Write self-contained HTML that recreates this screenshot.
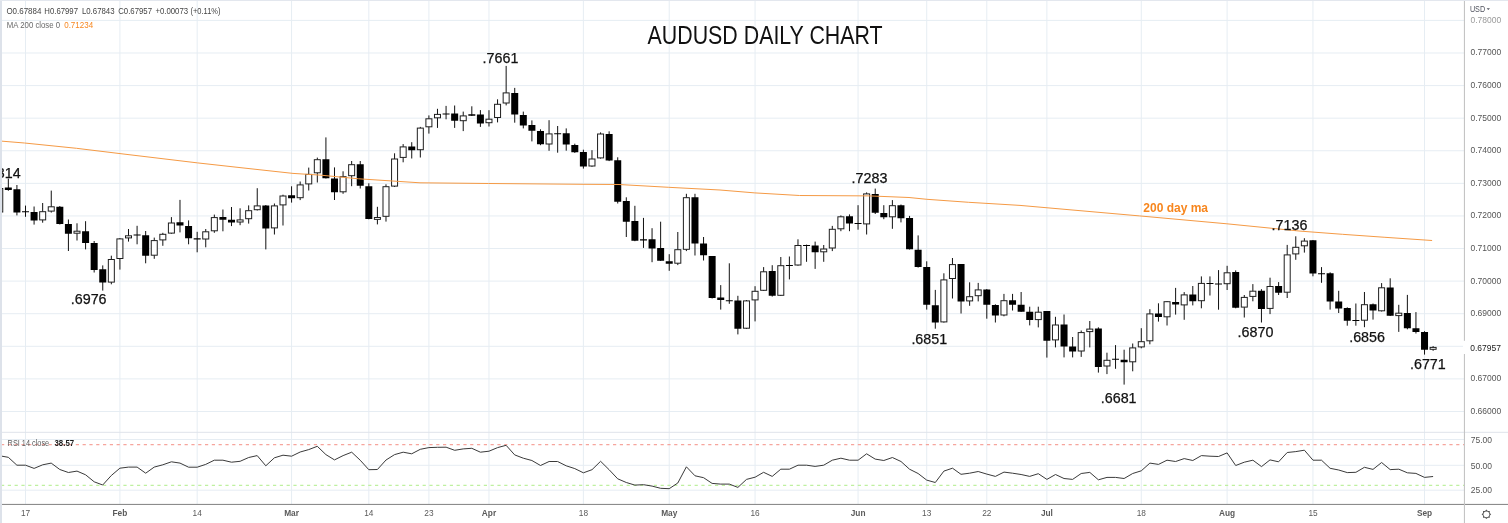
<!DOCTYPE html><html><head><meta charset="utf-8"><title>AUDUSD Daily Chart</title>
<style>html,body{margin:0;padding:0;background:#fff;}svg{display:block;}text{font-family:"Liberation Sans",Arial,sans-serif;}</style></head><body>
<svg width="1508" height="523" viewBox="0 0 1508 523">
<rect x="0" y="0" width="1508" height="523" fill="#ffffff"/>
<path d="M2 20.40H1464 M2 52.99H1464 M2 85.58H1464 M2 118.17H1464 M2 150.76H1464 M2 183.35H1464 M2 215.94H1464 M2 248.53H1464 M2 281.12H1464 M2 313.71H1464 M2 346.30H1464 M2 378.89H1464 M2 411.48H1464 M25.50 1V504 M119.91 1V504 M197.16 1V504 M291.57 1V504 M368.82 1V504 M428.90 1V504 M488.98 1V504 M583.39 1V504 M669.23 1V504 M755.06 1V504 M858.05 1V504 M926.72 1V504 M986.80 1V504 M1046.88 1V504 M1141.29 1V504 M1227.12 1V504 M1312.95 1V504 M1424.53 1V504 M2 439.5H1464 M2 465.3H1464 M2 490.2H1464" stroke="#e6edf3" stroke-width="1" fill="none"/>
<path d="M1 444.6H1464" stroke="#f6a59d" stroke-width="1.2" stroke-dasharray="3.2 3.6" fill="none"/>
<path d="M1 485.4H1464" stroke="#bff0a0" stroke-width="1.2" stroke-dasharray="3.2 3.6" fill="none"/>
<path d="M-0.25 186.0V214.0 M8.33 178.6V190.8 M16.92 185.0V215.4 M25.50 205.6V216.8 M34.08 206.5V224.6 M42.67 203.0V222.7 M51.25 190.6V212.6 M59.83 206.0V224.5 M68.41 219.5V251.0 M77.00 223.3V240.5 M85.58 221.2V249.4 M94.16 241.0V272.5 M102.75 265.4V290.6 M111.33 255.7V284.3 M119.91 238.0V269.6 M128.50 229.0V241.6 M137.08 225.8V244.3 M145.66 231.0V263.3 M154.25 237.6V258.8 M162.83 232.8V245.8 M171.41 217.1V233.8 M179.99 199.9V232.4 M188.58 220.4V244.3 M197.16 231.8V252.3 M205.74 229.0V247.3 M214.33 214.6V232.8 M222.91 209.5V231.3 M231.49 207.0V226.1 M240.08 208.3V225.2 M248.66 205.4V223.6 M257.24 188.2V210.5 M265.82 205.0V249.4 M274.41 203.5V234.5 M282.99 194.7V225.5 M291.57 186.3V202.6 M300.16 181.5V200.1 M308.74 167.6V190.5 M317.32 157.6V182.5 M325.91 137.4V178.5 M334.49 167.4V200.0 M343.07 171.3V193.8 M351.65 161.0V186.2 M360.24 161.0V188.5 M368.82 183.3V219.3 M377.40 206.8V224.4 M385.99 184.3V221.6 M394.57 153.3V187.0 M403.15 144.1V162.3 M411.74 142.2V158.5 M420.32 126.9V157.5 M428.90 115.4V133.6 M437.48 108.8V127.9 M446.07 105.9V119.3 M454.65 105.5V127.9 M463.23 111.6V131.1 M471.82 106.3V116.0 M480.40 110.1V126.9 M488.98 110.2V126.5 M497.56 99.3V122.4 M506.15 65.9V105.4 M514.73 87.9V122.7 M523.31 111.6V128.4 M531.90 120.4V141.4 M540.48 129.3V145.2 M549.06 120.2V150.8 M557.65 126.0V152.7 M566.23 128.4V150.7 M574.81 143.7V152.9 M583.39 149.7V168.6 M591.98 150.2V166.8 M600.56 132.4V158.6 M609.14 131.3V161.1 M617.73 157.3V203.5 M626.31 197.3V237.0 M634.89 205.8V241.2 M643.48 217.9V247.9 M652.06 228.2V262.2 M660.64 221.7V261.0 M669.23 254.2V270.8 M677.81 232.0V265.1 M686.39 193.8V251.1 M694.97 193.8V255.5 M703.56 237.0V260.5 M712.14 256.0V298.5 M720.72 285.1V309.6 M729.31 263.3V303.8 M737.89 295.8V334.4 M746.47 300.0V329.0 M755.06 286.2V321.4 M763.64 267.1V291.0 M772.22 265.2V296.6 M780.80 257.0V296.0 M789.39 256.5V279.4 M797.97 239.3V265.7 M806.55 244.6V261.8 M815.14 241.6V268.9 M823.72 245.0V261.8 M832.30 225.9V251.1 M840.88 215.4V231.2 M849.47 214.4V231.2 M858.05 205.2V229.7 M866.63 192.4V234.5 M875.22 188.6V214.0 M883.80 205.2V219.2 M892.38 200.1V228.8 M900.97 204.5V222.4 M909.55 215.9V249.5 M918.13 235.4V267.6 M926.72 261.3V309.6 M935.30 289.9V328.7 M943.88 273.3V322.6 M952.46 258.0V298.5 M961.05 264.0V313.5 M969.63 282.3V305.8 M978.21 282.9V301.4 M986.80 289.0V318.7 M995.38 304.3V322.5 M1003.96 293.9V316.3 M1012.55 293.9V310.5 M1021.13 292.0V311.9 M1029.71 306.7V325.4 M1038.29 306.7V327.4 M1046.88 311.0V357.6 M1055.46 316.8V347.4 M1064.04 314.5V357.4 M1072.63 337.0V357.4 M1081.21 330.5V356.9 M1089.79 321.0V347.4 M1098.38 327.3V372.6 M1106.96 352.7V374.1 M1115.54 345.1V368.8 M1124.12 349.7V384.6 M1132.71 343.5V371.3 M1141.29 328.2V348.3 M1149.87 309.2V344.3 M1158.46 303.3V321.6 M1167.04 301.0V325.5 M1175.62 287.9V314.6 M1184.20 292.1V319.8 M1192.79 286.0V305.4 M1201.37 276.4V308.3 M1209.95 276.4V295.5 M1218.54 270.1V309.7 M1227.12 265.8V290.0 M1235.70 270.4V308.3 M1244.29 295.0V317.5 M1252.87 284.1V301.3 M1261.45 289.2V322.5 M1270.04 277.7V314.1 M1278.62 282.1V295.0 M1287.20 244.9V298.0 M1295.78 236.3V259.8 M1304.37 238.2V252.6 M1312.95 240.0V276.3 M1321.53 267.1V282.8 M1330.12 272.3V309.6 M1338.70 290.8V313.0 M1347.28 307.3V325.7 M1355.87 303.5V325.7 M1364.45 292.0V327.2 M1373.03 303.5V319.6 M1381.61 283.1V311.5 M1390.20 278.3V316.0 M1398.78 304.8V331.9 M1407.36 294.9V329.3 M1415.95 312.1V333.5 M1424.53 331.2V354.6 M1433.11 346.1V350.8" stroke="#111" stroke-width="1" fill="none"/>
<rect x="-3.25" y="188.5" width="6.0" height="23.5" fill="#fff" stroke="#1e1e1e" stroke-width="1"/>
<rect x="39.67" y="211.7" width="6.0" height="8.2" fill="#fff" stroke="#1e1e1e" stroke-width="1"/>
<rect x="48.25" y="206.8" width="6.0" height="4.3" fill="#fff" stroke="#1e1e1e" stroke-width="1"/>
<rect x="74.00" y="231.2" width="6.0" height="2.0" fill="#fff" stroke="#1e1e1e" stroke-width="1"/>
<rect x="108.33" y="259.5" width="6.0" height="22.6" fill="#fff" stroke="#1e1e1e" stroke-width="1"/>
<rect x="116.91" y="238.9" width="6.0" height="19.6" fill="#fff" stroke="#1e1e1e" stroke-width="1"/>
<rect x="125.50" y="235.8" width="6.0" height="2.1" fill="#fff" stroke="#1e1e1e" stroke-width="1"/>
<rect x="151.25" y="240.6" width="6.0" height="14.6" fill="#fff" stroke="#1e1e1e" stroke-width="1"/>
<rect x="159.83" y="234.3" width="6.0" height="5.6" fill="#fff" stroke="#1e1e1e" stroke-width="1"/>
<rect x="168.41" y="223.0" width="6.0" height="10.1" fill="#fff" stroke="#1e1e1e" stroke-width="1"/>
<rect x="202.74" y="231.8" width="6.0" height="7.2" fill="#fff" stroke="#1e1e1e" stroke-width="1"/>
<rect x="211.33" y="217.6" width="6.0" height="13.2" fill="#fff" stroke="#1e1e1e" stroke-width="1"/>
<rect x="237.08" y="219.9" width="6.0" height="2.1" fill="#fff" stroke="#1e1e1e" stroke-width="1"/>
<rect x="245.66" y="210.7" width="6.0" height="8.0" fill="#fff" stroke="#1e1e1e" stroke-width="1"/>
<rect x="254.24" y="205.9" width="6.0" height="3.8" fill="#fff" stroke="#1e1e1e" stroke-width="1"/>
<rect x="271.41" y="205.9" width="6.0" height="22.0" fill="#fff" stroke="#1e1e1e" stroke-width="1"/>
<rect x="279.99" y="196.0" width="6.0" height="8.9" fill="#fff" stroke="#1e1e1e" stroke-width="1"/>
<rect x="297.16" y="184.9" width="6.0" height="12.8" fill="#fff" stroke="#1e1e1e" stroke-width="1"/>
<rect x="305.74" y="174.4" width="6.0" height="9.5" fill="#fff" stroke="#1e1e1e" stroke-width="1"/>
<rect x="314.32" y="159.7" width="6.0" height="13.1" fill="#fff" stroke="#1e1e1e" stroke-width="1"/>
<rect x="340.07" y="176.7" width="6.0" height="15.1" fill="#fff" stroke="#1e1e1e" stroke-width="1"/>
<rect x="348.65" y="164.7" width="6.0" height="11.0" fill="#fff" stroke="#1e1e1e" stroke-width="1"/>
<rect x="374.40" y="217.5" width="6.0" height="1.9" fill="#fff" stroke="#1e1e1e" stroke-width="1"/>
<rect x="382.99" y="186.7" width="6.0" height="29.6" fill="#fff" stroke="#1e1e1e" stroke-width="1"/>
<rect x="391.57" y="159.0" width="6.0" height="27.1" fill="#fff" stroke="#1e1e1e" stroke-width="1"/>
<rect x="400.15" y="146.9" width="6.0" height="10.5" fill="#fff" stroke="#1e1e1e" stroke-width="1"/>
<rect x="417.32" y="128.1" width="6.0" height="21.6" fill="#fff" stroke="#1e1e1e" stroke-width="1"/>
<rect x="425.90" y="118.8" width="6.0" height="8.0" fill="#fff" stroke="#1e1e1e" stroke-width="1"/>
<rect x="434.48" y="114.4" width="6.0" height="3.4" fill="#fff" stroke="#1e1e1e" stroke-width="1"/>
<rect x="460.23" y="115.9" width="6.0" height="4.8" fill="#fff" stroke="#1e1e1e" stroke-width="1"/>
<rect x="485.98" y="119.2" width="6.0" height="3.5" fill="#fff" stroke="#1e1e1e" stroke-width="1"/>
<rect x="494.56" y="104.3" width="6.0" height="13.2" fill="#fff" stroke="#1e1e1e" stroke-width="1"/>
<rect x="503.15" y="92.9" width="6.0" height="10.1" fill="#fff" stroke="#1e1e1e" stroke-width="1"/>
<rect x="546.06" y="133.9" width="6.0" height="10.1" fill="#fff" stroke="#1e1e1e" stroke-width="1"/>
<rect x="588.98" y="159.0" width="6.0" height="7.0" fill="#fff" stroke="#1e1e1e" stroke-width="1"/>
<rect x="597.56" y="134.0" width="6.0" height="23.9" fill="#fff" stroke="#1e1e1e" stroke-width="1"/>
<rect x="674.81" y="249.7" width="6.0" height="13.5" fill="#fff" stroke="#1e1e1e" stroke-width="1"/>
<rect x="683.39" y="197.7" width="6.0" height="51.6" fill="#fff" stroke="#1e1e1e" stroke-width="1"/>
<rect x="743.47" y="300.9" width="6.0" height="27.3" fill="#fff" stroke="#1e1e1e" stroke-width="1"/>
<rect x="752.06" y="291.3" width="6.0" height="8.6" fill="#fff" stroke="#1e1e1e" stroke-width="1"/>
<rect x="760.64" y="271.8" width="6.0" height="18.5" fill="#fff" stroke="#1e1e1e" stroke-width="1"/>
<rect x="777.80" y="265.7" width="6.0" height="29.6" fill="#fff" stroke="#1e1e1e" stroke-width="1"/>
<rect x="794.97" y="245.5" width="6.0" height="19.5" fill="#fff" stroke="#1e1e1e" stroke-width="1"/>
<rect x="820.72" y="249.0" width="6.0" height="2.8" fill="#fff" stroke="#1e1e1e" stroke-width="1"/>
<rect x="829.30" y="229.3" width="6.0" height="18.7" fill="#fff" stroke="#1e1e1e" stroke-width="1"/>
<rect x="837.88" y="216.8" width="6.0" height="12.0" fill="#fff" stroke="#1e1e1e" stroke-width="1"/>
<rect x="863.63" y="193.9" width="6.0" height="30.0" fill="#fff" stroke="#1e1e1e" stroke-width="1"/>
<rect x="889.38" y="205.7" width="6.0" height="11.1" fill="#fff" stroke="#1e1e1e" stroke-width="1"/>
<rect x="940.88" y="279.9" width="6.0" height="42.0" fill="#fff" stroke="#1e1e1e" stroke-width="1"/>
<rect x="949.46" y="264.6" width="6.0" height="13.9" fill="#fff" stroke="#1e1e1e" stroke-width="1"/>
<rect x="966.63" y="296.7" width="6.0" height="4.2" fill="#fff" stroke="#1e1e1e" stroke-width="1"/>
<rect x="975.21" y="289.9" width="6.0" height="5.8" fill="#fff" stroke="#1e1e1e" stroke-width="1"/>
<rect x="1000.96" y="300.7" width="6.0" height="14.3" fill="#fff" stroke="#1e1e1e" stroke-width="1"/>
<rect x="1035.29" y="312.2" width="6.0" height="7.4" fill="#fff" stroke="#1e1e1e" stroke-width="1"/>
<rect x="1052.46" y="325.0" width="6.0" height="14.9" fill="#fff" stroke="#1e1e1e" stroke-width="1"/>
<rect x="1078.21" y="332.6" width="6.0" height="18.4" fill="#fff" stroke="#1e1e1e" stroke-width="1"/>
<rect x="1086.79" y="329.1" width="6.0" height="2.5" fill="#fff" stroke="#1e1e1e" stroke-width="1"/>
<rect x="1103.96" y="360.3" width="6.0" height="5.7" fill="#fff" stroke="#1e1e1e" stroke-width="1"/>
<rect x="1129.71" y="347.9" width="6.0" height="13.9" fill="#fff" stroke="#1e1e1e" stroke-width="1"/>
<rect x="1138.29" y="341.7" width="6.0" height="5.2" fill="#fff" stroke="#1e1e1e" stroke-width="1"/>
<rect x="1146.87" y="313.9" width="6.0" height="26.9" fill="#fff" stroke="#1e1e1e" stroke-width="1"/>
<rect x="1164.04" y="301.7" width="6.0" height="15.1" fill="#fff" stroke="#1e1e1e" stroke-width="1"/>
<rect x="1181.20" y="294.9" width="6.0" height="10.0" fill="#fff" stroke="#1e1e1e" stroke-width="1"/>
<rect x="1198.37" y="283.4" width="6.0" height="17.3" fill="#fff" stroke="#1e1e1e" stroke-width="1"/>
<rect x="1224.12" y="272.8" width="6.0" height="10.9" fill="#fff" stroke="#1e1e1e" stroke-width="1"/>
<rect x="1241.29" y="297.4" width="6.0" height="9.7" fill="#fff" stroke="#1e1e1e" stroke-width="1"/>
<rect x="1249.87" y="291.2" width="6.0" height="5.2" fill="#fff" stroke="#1e1e1e" stroke-width="1"/>
<rect x="1267.04" y="286.5" width="6.0" height="21.9" fill="#fff" stroke="#1e1e1e" stroke-width="1"/>
<rect x="1284.20" y="254.9" width="6.0" height="37.3" fill="#fff" stroke="#1e1e1e" stroke-width="1"/>
<rect x="1292.78" y="247.3" width="6.0" height="6.6" fill="#fff" stroke="#1e1e1e" stroke-width="1"/>
<rect x="1301.37" y="241.1" width="6.0" height="4.7" fill="#fff" stroke="#1e1e1e" stroke-width="1"/>
<rect x="1361.45" y="304.7" width="6.0" height="15.5" fill="#fff" stroke="#1e1e1e" stroke-width="1"/>
<rect x="1378.61" y="287.8" width="6.0" height="23.0" fill="#fff" stroke="#1e1e1e" stroke-width="1"/>
<rect x="1395.78" y="313.2" width="6.0" height="2.4" fill="#fff" stroke="#1e1e1e" stroke-width="1"/>
<rect x="1430.11" y="347.4" width="6.0" height="1.9" fill="#fff" stroke="#1e1e1e" stroke-width="1"/>
<path d="M4.83 187.6h7.0v2.3h-7.0z M13.42 189.3h7.0v23.1h-7.0z M22.00 211.2h7.0v1.1h-7.0z M30.58 212.0h7.0v8.4h-7.0z M56.33 206.7h7.0v17.2h-7.0z M64.91 223.9h7.0v9.8h-7.0z M82.08 231.3h7.0v11.8h-7.0z M90.66 243.1h7.0v26.9h-7.0z M99.25 269.2h7.0v13.2h-7.0z M133.58 234.6h7.0v1.0h-7.0z M142.16 235.3h7.0v20.4h-7.0z M176.49 222.3h7.0v3.2h-7.0z M185.08 225.9h7.0v12.3h-7.0z M193.66 238.2h7.0v1.3h-7.0z M219.41 217.1h7.0v2.7h-7.0z M227.99 219.8h7.0v2.7h-7.0z M262.32 205.4h7.0v23.0h-7.0z M288.07 195.3h7.0v2.9h-7.0z M322.41 159.2h7.0v19.1h-7.0z M330.99 178.4h7.0v13.9h-7.0z M356.74 164.2h7.0v21.6h-7.0z M365.32 186.2h7.0v32.9h-7.0z M408.24 146.4h7.0v3.8h-7.0z M442.57 113.6h7.0v1.0h-7.0z M451.15 113.5h7.0v7.3h-7.0z M468.32 114.3h7.0v1.5h-7.0z M476.90 114.5h7.0v9.0h-7.0z M511.23 93.0h7.0v21.6h-7.0z M519.81 115.0h7.0v10.5h-7.0z M528.40 125.1h7.0v5.6h-7.0z M536.98 130.9h7.0v13.4h-7.0z M554.15 133.2h7.0v1.0h-7.0z M562.73 133.2h7.0v11.3h-7.0z M571.31 145.0h7.0v7.3h-7.0z M579.89 152.1h7.0v14.4h-7.0z M605.64 133.9h7.0v26.5h-7.0z M614.23 160.3h7.0v41.4h-7.0z M622.81 201.0h7.0v20.7h-7.0z M631.39 221.1h7.0v19.7h-7.0z M639.98 239.3h7.0v1.1h-7.0z M648.56 239.3h7.0v9.2h-7.0z M657.14 247.9h7.0v12.8h-7.0z M665.73 261.3h7.0v2.4h-7.0z M691.47 197.2h7.0v46.3h-7.0z M700.06 243.5h7.0v11.8h-7.0z M708.64 256.0h7.0v42.1h-7.0z M717.22 297.6h7.0v2.3h-7.0z M725.81 300.2h7.0v1.0h-7.0z M734.39 300.4h7.0v28.3h-7.0z M768.72 271.0h7.0v24.8h-7.0z M785.89 265.0h7.0v1.0h-7.0z M803.05 245.0h7.0v1.0h-7.0z M811.64 245.4h7.0v6.9h-7.0z M845.97 216.3h7.0v7.3h-7.0z M854.55 223.0h7.0v1.0h-7.0z M871.72 194.0h7.0v18.7h-7.0z M880.30 212.9h7.0v4.4h-7.0z M897.47 205.2h7.0v13.0h-7.0z M906.05 217.9h7.0v31.3h-7.0z M914.63 249.8h7.0v17.2h-7.0z M923.22 267.0h7.0v37.7h-7.0z M931.80 305.2h7.0v17.2h-7.0z M957.55 264.1h7.0v37.3h-7.0z M983.30 289.4h7.0v15.3h-7.0z M991.88 305.0h7.0v10.6h-7.0z M1009.05 300.2h7.0v4.6h-7.0z M1017.63 304.8h7.0v6.9h-7.0z M1026.21 311.7h7.0v8.4h-7.0z M1043.38 311.1h7.0v29.6h-7.0z M1060.54 324.5h7.0v21.9h-7.0z M1069.13 346.4h7.0v5.0h-7.0z M1094.88 328.6h7.0v38.3h-7.0z M1112.04 358.8h7.0v1.0h-7.0z M1120.62 359.8h7.0v2.5h-7.0z M1154.96 313.4h7.0v3.6h-7.0z M1172.12 302.0h7.0v2.5h-7.0z M1189.29 294.4h7.0v6.8h-7.0z M1206.45 282.9h7.0v1.0h-7.0z M1215.04 283.5h7.0v1.0h-7.0z M1232.20 272.0h7.0v35.8h-7.0z M1257.95 290.7h7.0v18.2h-7.0z M1275.12 286.0h7.0v6.7h-7.0z M1309.45 240.2h7.0v33.2h-7.0z M1318.03 273.2h7.0v1.0h-7.0z M1326.62 273.2h7.0v28.3h-7.0z M1335.20 301.5h7.0v7.1h-7.0z M1343.78 308.0h7.0v12.7h-7.0z M1352.37 320.0h7.0v1.0h-7.0z M1369.53 304.2h7.0v6.3h-7.0z M1386.70 287.6h7.0v28.2h-7.0z M1403.86 313.0h7.0v15.3h-7.0z M1412.45 328.3h7.0v3.8h-7.0z M1421.03 332.1h7.0v17.6h-7.0z" fill="#000"/>
<polyline points="0.0,141.0 24.5,143.0 76.5,148.3 120.0,153.6 197.6,162.9 240.0,167.6 293.0,173.4 320.0,175.1 358.7,178.8 420.0,182.8 488.6,183.5 583.0,184.3 619.0,184.5 668.7,187.3 720.0,190.0 754.8,192.9 799.6,195.5 869.2,195.9 909.0,197.5 926.9,199.3 968.7,202.3 1020.0,205.4 1139.4,215.9 1226.9,223.8 1300.0,231.1 1342.4,234.3 1384.9,237.3 1432.1,240.5" fill="none" stroke="#f59a45" stroke-width="1" stroke-linejoin="round"/>
<polyline points="2.0,456.2 8.3,457.3 16.9,465.2 25.5,465.2 34.1,468.4 42.7,464.8 51.2,463.1 59.8,469.5 68.4,472.5 77.0,471.1 85.6,474.8 94.2,481.8 102.7,485.0 111.3,475.5 119.9,468.2 128.5,467.1 137.1,467.1 145.7,473.2 154.2,467.1 162.8,464.8 171.4,461.8 180.0,463.1 188.6,467.2 197.2,467.2 205.7,464.4 214.3,460.2 222.9,460.2 231.5,462.2 240.1,461.3 248.7,457.5 257.2,455.6 265.8,465.8 274.4,457.8 283.0,455.2 291.6,456.2 300.2,452.0 308.7,449.6 317.3,446.3 325.9,454.6 334.5,459.9 343.1,455.6 351.7,452.2 360.2,460.2 368.8,469.7 377.4,469.5 386.0,460.0 394.6,454.6 403.2,452.2 411.7,453.8 420.3,449.3 428.9,447.6 437.5,447.3 446.1,447.2 454.7,450.3 463.2,448.9 471.8,448.3 480.4,452.2 489.0,451.2 497.6,447.6 506.1,445.3 514.7,454.9 523.3,458.2 531.9,460.5 540.5,465.5 549.1,461.5 557.6,461.5 566.2,465.8 574.8,468.6 583.4,472.8 592.0,469.7 600.6,461.3 609.1,469.7 617.7,478.8 626.3,482.5 634.9,485.1 643.5,484.7 652.1,486.1 660.6,488.3 669.2,488.7 677.8,483.0 686.4,466.8 695.0,475.8 703.6,477.7 712.1,483.4 720.7,484.1 729.3,484.1 737.9,487.4 746.5,479.4 755.1,477.2 763.6,472.3 772.2,476.4 780.8,469.2 789.4,469.2 798.0,465.2 806.6,465.2 815.1,466.4 823.7,465.2 832.3,460.2 840.9,458.2 849.5,460.2 858.1,460.2 866.6,453.8 875.2,459.1 883.8,460.5 892.4,457.5 901.0,461.5 909.5,469.2 918.1,473.5 926.7,480.1 935.3,482.5 943.9,471.1 952.5,468.2 961.0,474.3 969.6,473.2 978.2,471.5 986.8,474.1 995.4,476.4 1004.0,472.1 1012.5,473.2 1021.1,474.5 1029.7,476.4 1038.3,473.7 1046.9,479.4 1055.5,474.5 1064.0,478.5 1072.6,479.4 1081.2,473.5 1089.8,472.4 1098.4,479.8 1107.0,477.4 1115.5,477.4 1124.1,478.5 1132.7,473.5 1141.3,470.8 1149.9,463.1 1158.5,464.4 1167.0,460.2 1175.6,461.5 1184.2,458.6 1192.8,460.5 1201.4,455.6 1210.0,456.2 1218.5,456.5 1227.1,452.9 1235.7,465.5 1244.3,462.2 1252.9,460.2 1261.5,466.6 1270.0,459.9 1278.6,461.8 1287.2,452.5 1295.8,451.6 1304.4,450.2 1313.0,460.2 1321.5,460.2 1330.1,468.3 1338.7,470.0 1347.3,472.6 1355.9,472.3 1364.4,467.3 1373.0,469.4 1381.6,462.5 1390.2,469.6 1398.8,469.2 1407.4,472.8 1415.9,473.4 1424.5,477.4 1433.1,476.5" fill="none" stroke="#3a3a3a" stroke-width="1" stroke-linejoin="round"/>
<rect x="2" y="431.8" width="1506" height="1" fill="#dfe3ea"/>
<rect x="2" y="503.9" width="1506" height="1.1" fill="#8c8c8c"/>
<rect x="1463.9" y="0" width="1.1" height="523" fill="#c4c4c4"/>
<text x="6.4" y="13.9" font-size="8.2" fill="#454545" textLength="35.0" lengthAdjust="spacingAndGlyphs">O0.67884</text>
<text x="44.3" y="13.9" font-size="8.2" fill="#454545" textLength="33.7" lengthAdjust="spacingAndGlyphs">H0.67997</text>
<text x="81.9" y="13.9" font-size="8.2" fill="#454545" textLength="32.7" lengthAdjust="spacingAndGlyphs">L0.67843</text>
<text x="118.2" y="13.9" font-size="8.2" fill="#454545" textLength="33.8" lengthAdjust="spacingAndGlyphs">C0.67957</text>
<text x="155.4" y="13.9" font-size="8.2" fill="#454545" textLength="32.7" lengthAdjust="spacingAndGlyphs">+0.00073</text>
<text x="190.5" y="13.9" font-size="8.2" fill="#454545" textLength="30.0" lengthAdjust="spacingAndGlyphs">(+0.11%)</text>
<text x="6.8" y="27.9" font-size="8.2" fill="#6a6a6a" textLength="53.3" lengthAdjust="spacingAndGlyphs">MA 200 close 0</text>
<text x="64.2" y="27.9" font-size="8.2" fill="#f7861e" textLength="28.9" lengthAdjust="spacingAndGlyphs">0.71234</text>
<text x="7.6" y="446" font-size="8.8" fill="#5c5c5c" textLength="41.6" lengthAdjust="spacingAndGlyphs">RSI 14 close</text>
<text x="54.5" y="446" font-size="8.8" font-weight="bold" fill="#1c1c1c" textLength="19.6" lengthAdjust="spacingAndGlyphs">38.57</text>
<text x="647.6" y="44" font-size="25" fill="#111" textLength="235" lengthAdjust="spacingAndGlyphs">AUDUSD DAILY CHART</text>
<text x="20.6" y="177.6" font-size="14.3" fill="#111" stroke="#111" stroke-width="0.25" text-anchor="end">.7314</text>
<text x="70.8" y="303.5" font-size="14.3" fill="#111" stroke="#111" stroke-width="0.25">.6976</text>
<text x="482.6" y="62.9" font-size="14.3" fill="#111" stroke="#111" stroke-width="0.25">.7661</text>
<text x="851.6" y="182.8" font-size="14.3" fill="#111" stroke="#111" stroke-width="0.25">.7283</text>
<text x="911.4" y="343.5" font-size="14.3" fill="#111" stroke="#111" stroke-width="0.25">.6851</text>
<text x="1100.8" y="403.0" font-size="14.3" fill="#111" stroke="#111" stroke-width="0.25">.6681</text>
<text x="1271.6" y="230.0" font-size="14.3" fill="#111" stroke="#111" stroke-width="0.25">.7136</text>
<text x="1237.6" y="336.9" font-size="14.3" fill="#111" stroke="#111" stroke-width="0.25">.6870</text>
<text x="1349.2" y="341.9" font-size="14.3" fill="#111" stroke="#111" stroke-width="0.25">.6856</text>
<text x="1410.0" y="368.5" font-size="14.3" fill="#111" stroke="#111" stroke-width="0.25">.6771</text>
<text x="1143.3" y="211.9" font-size="12" font-weight="bold" fill="#f7861e">200 day ma</text>
<text x="1470.5" y="22.8" font-size="8.5" fill="#9a9a9a">0.78000</text>
<text x="1470.5" y="55.4" font-size="8.5" fill="#555">0.77000</text>
<text x="1470.5" y="88.0" font-size="8.5" fill="#555">0.76000</text>
<text x="1470.5" y="120.6" font-size="8.5" fill="#555">0.75000</text>
<text x="1470.5" y="153.2" font-size="8.5" fill="#555">0.74000</text>
<text x="1470.5" y="185.8" font-size="8.5" fill="#555">0.73000</text>
<text x="1470.5" y="218.3" font-size="8.5" fill="#555">0.72000</text>
<text x="1470.5" y="250.9" font-size="8.5" fill="#555">0.71000</text>
<text x="1470.5" y="283.5" font-size="8.5" fill="#555">0.70000</text>
<text x="1470.5" y="316.1" font-size="8.5" fill="#555">0.69000</text>
<text x="1470.5" y="381.3" font-size="8.5" fill="#555">0.67000</text>
<text x="1470.5" y="413.9" font-size="8.5" fill="#555">0.66000</text>
<rect x="1463" y="340.8" width="45" height="13.2" fill="#fff"/>
<text x="1470.3" y="351.2" font-size="9.6" fill="#222" textLength="30.6" lengthAdjust="spacingAndGlyphs">0.67957</text>
<text x="1469.9" y="11.9" font-size="8.8" fill="#50535e" textLength="15.2" lengthAdjust="spacingAndGlyphs">USD</text>
<path d="M1486.6 8.2h3.4l-1.7 1.8z" fill="#50535e"/>
<text x="1470.8" y="442.7" font-size="8.5" fill="#555">75.00</text>
<text x="1470.8" y="468.7" font-size="8.5" fill="#555">50.00</text>
<text x="1470.8" y="493.3" font-size="8.5" fill="#555">25.00</text>
<text x="25.5" y="515.9" font-size="8.3" fill="#5a5a5a" text-anchor="middle">17</text>
<text x="119.9" y="515.9" font-size="8.3" fill="#5a5a5a" text-anchor="middle" font-weight="bold">Feb</text>
<text x="197.2" y="515.9" font-size="8.3" fill="#5a5a5a" text-anchor="middle">14</text>
<text x="291.6" y="515.9" font-size="8.3" fill="#5a5a5a" text-anchor="middle" font-weight="bold">Mar</text>
<text x="368.8" y="515.9" font-size="8.3" fill="#5a5a5a" text-anchor="middle">14</text>
<text x="428.9" y="515.9" font-size="8.3" fill="#5a5a5a" text-anchor="middle">23</text>
<text x="489.0" y="515.9" font-size="8.3" fill="#5a5a5a" text-anchor="middle" font-weight="bold">Apr</text>
<text x="583.4" y="515.9" font-size="8.3" fill="#5a5a5a" text-anchor="middle">18</text>
<text x="669.2" y="515.9" font-size="8.3" fill="#5a5a5a" text-anchor="middle" font-weight="bold">May</text>
<text x="755.1" y="515.9" font-size="8.3" fill="#5a5a5a" text-anchor="middle">16</text>
<text x="858.1" y="515.9" font-size="8.3" fill="#5a5a5a" text-anchor="middle" font-weight="bold">Jun</text>
<text x="926.7" y="515.9" font-size="8.3" fill="#5a5a5a" text-anchor="middle">13</text>
<text x="986.8" y="515.9" font-size="8.3" fill="#5a5a5a" text-anchor="middle">22</text>
<text x="1046.9" y="515.9" font-size="8.3" fill="#5a5a5a" text-anchor="middle" font-weight="bold">Jul</text>
<text x="1141.3" y="515.9" font-size="8.3" fill="#5a5a5a" text-anchor="middle">18</text>
<text x="1227.1" y="515.9" font-size="8.3" fill="#5a5a5a" text-anchor="middle" font-weight="bold">Aug</text>
<text x="1313.0" y="515.9" font-size="8.3" fill="#5a5a5a" text-anchor="middle">15</text>
<text x="1424.5" y="515.9" font-size="8.3" fill="#5a5a5a" text-anchor="middle" font-weight="bold">Sep</text>
<polygon points="1491.20,514.30 1489.73,515.68 1489.79,517.69 1487.78,517.63 1486.40,519.10 1485.02,517.63 1483.01,517.69 1483.07,515.68 1481.60,514.30 1483.07,512.92 1483.01,510.91 1485.02,510.97 1486.40,509.50 1487.78,510.97 1489.79,510.91 1489.73,512.92" fill="#555"/>
<circle cx="1486.4" cy="514.3" r="2.9" fill="#fff"/>
<rect x="0" y="0" width="2" height="523" fill="#dde2ea"/>
<rect x="0" y="0" width="1508" height="1" fill="#e3e7ee"/>
</svg></body></html>
